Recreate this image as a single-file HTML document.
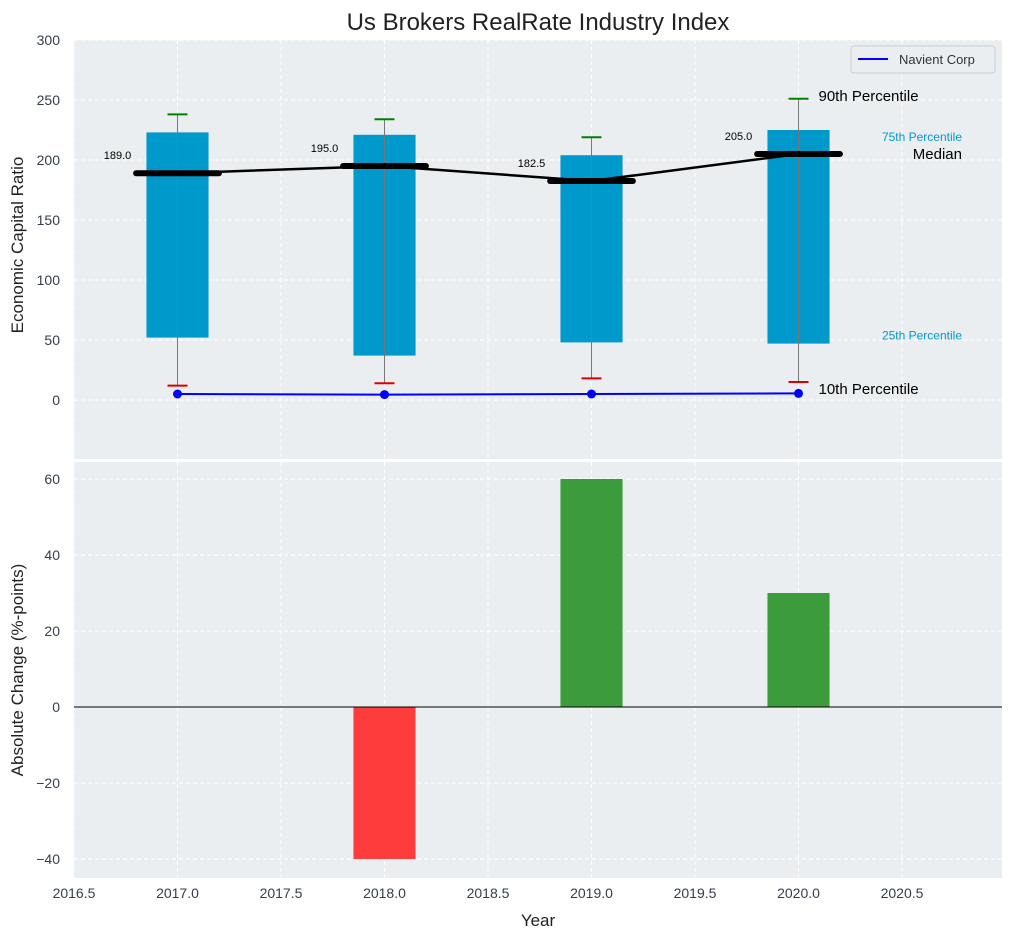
<!DOCTYPE html>
<html><head><meta charset="utf-8"><style>
body{margin:0;background:#fff;font-family:"Liberation Sans",sans-serif;}
svg text{font-family:"Liberation Sans",sans-serif;}
</style></head><body>
<svg id="c" width="1012" height="940" xmlns="http://www.w3.org/2000/svg"></svg>
<script>
const years=[2017,2018,2019,2020];
const p10=[12,14,18,15];
const p25=[52,37,48,47];
const p50=[189,195,182.5,205];
const p75=[223,221,204,225];
const p90=[238,234,219,251];
const navient=[5,4.5,5,5.5];
const changeYears=[2018,2019,2020];
const changes=[-40,60,30];
const xTicks=[2016.5,2017,2017.5,2018,2018.5,2019,2019.5,2020,2020.5];
const yTicksTop=[0,50,100,150,200,250,300];
const yTicksBot=[-40,-20,0,20,40,60];

const NS="http://www.w3.org/2000/svg";
const svg=document.getElementById('c');
function el(t,a,txt){const e=document.createElementNS(NS,t);for(const k in a)e.setAttribute(k,a[k]);if(txt!==undefined)e.textContent=txt;svg.appendChild(e);return e;}
const L=74,R=1002;
const X=v=>L+(v-2016.5)*(R-L)/(2020.983-2016.5);
const T0=40,T1=460,B0=460,B1=878;
const YT=v=>T1-(v+50)*(T1-T0)/350;
const YB=v=>B1-(v+45)*(B1-B0)/110;

let e=el('rect',{x:L,y:T0,width:R-L,height:T1-T0,fill:'#eaeef0'});

e=el('rect',{x:L,y:B0+2,width:R-L,height:B1-B0-2,fill:'#eaeef0'});

el('line',{x1:L,x2:R,y1:460,y2:460,stroke:'#fff','stroke-width':2});
xTicks.forEach(t=>{[[T0,T1-1],[B0+2,B1]].forEach(r=>el('line',{x1:X(t),x2:X(t),y1:r[0],y2:r[1],stroke:'#fff','stroke-dasharray':'4,3','stroke-width':1}));
 e=el('text',{x:X(t),y:898,'text-anchor':'middle','font-size':14,fill:'#333e4e'},t.toFixed(1));
 });
yTicksTop.forEach(t=>{el('line',{x1:L,x2:R,y1:YT(t),y2:YT(t),stroke:'#fff','stroke-dasharray':'4,3'});
 e=el('text',{x:60,y:YT(t)+5,'text-anchor':'end','font-size':14,fill:'#333e4e'},t);
 });
yTicksBot.forEach(t=>{el('line',{x1:L,x2:R,y1:YB(t),y2:YB(t),stroke:'#fff','stroke-dasharray':'4,3'});
 e=el('text',{x:60,y:YB(t)+5,'text-anchor':'end','font-size':14,fill:'#333e4e'},t<0?'\u2212'+(-t):t);
 });
const bw=0.3;
years.forEach((y,i)=>{
 e=el('rect',{x:X(y-bw/2),y:YT(p75[i]),width:X(y+bw/2)-X(y-bw/2),height:YT(p25[i])-YT(p75[i]),fill:'#0099cc'});
 
 el('line',{x1:X(y),x2:X(y),y1:YT(p90[i]),y2:YT(p10[i]),stroke:'#777','stroke-width':1});
 el('line',{x1:X(y)-10,x2:X(y)+10,y1:YT(p90[i]),y2:YT(p90[i]),stroke:'green','stroke-width':2});
 el('line',{x1:X(y)-10,x2:X(y)+10,y1:YT(p10[i]),y2:YT(p10[i]),stroke:'#d00','stroke-width':2});
 e=el('line',{x1:X(y-0.2),x2:X(y+0.2),y1:YT(p50[i]),y2:YT(p50[i]),stroke:'#000','stroke-width':6,'stroke-linecap':'round'});
 
 e=el('text',{x:X(y)-60,y:YT(p50[i])-14,'text-anchor':'middle','font-size':11,fill:'#000'},p50[i].toFixed(1));
 
});
e=el('polyline',{points:years.map((y,i)=>X(y)+','+YT(p50[i])).join(' '),fill:'none',stroke:'#000','stroke-width':2.5});

e=el('polyline',{points:years.map((y,i)=>X(y)+','+YT(navient[i])).join(' '),fill:'none',stroke:'blue','stroke-width':2});

years.forEach((y,i)=>{e=el('circle',{cx:X(y),cy:YT(navient[i]),r:4.5,fill:'blue'});
 });
const lx=X(2020)+20, last=years.length-1;
[['90th Percentile',p90[last],15,'#000','start',lx,-3],['10th Percentile',p10[last],15,'#000','start',lx,7],
 ['Median',p50[last],15,'#000','end',962,0],['75th Percentile',p75[last],12,'#0099cc','end',962,6],['25th Percentile',p25[last],12,'#0099cc','end',962,-9]].forEach(a=>{
 e=el('text',{x:a[5],y:YT(a[1])+a[6]+5,'font-size':a[2],fill:a[3],'text-anchor':a[4]},a[0]);
 });
changeYears.forEach((y,i)=>{const v=changes[i];
 e=el('rect',{x:X(y-bw/2),y:Math.min(YB(0),YB(v)),width:X(y+bw/2)-X(y-bw/2),height:Math.abs(YB(v)-YB(0)),fill:v<0?'#fe3c3c':'#3c9c3c'});
 });
el('line',{x1:L,x2:R,y1:YB(0),y2:YB(0),stroke:'#000','stroke-width':1});
e=el('rect',{x:851,y:46,width:144,height:27,fill:'#eaeef0',stroke:'#ccc',rx:3});

el('line',{x1:858,x2:888,y1:59,y2:59,stroke:'blue','stroke-width':2});
e=el('text',{x:899,y:64,'font-size':13,fill:'#333'},'Navient Corp');

e=el('text',{x:538,y:30,'text-anchor':'middle','font-size':24,fill:'#222'},'Us Brokers RealRate Industry Index');

e=el('text',{x:538,y:926,'text-anchor':'middle','font-size':17,fill:'#222'},'Year');

e=el('text',{x:0,y:0,'text-anchor':'middle','font-size':17,fill:'#222',transform:'translate(23,245) rotate(-90)'},'Economic Capital Ratio');

e=el('text',{x:0,y:0,'text-anchor':'middle','font-size':17,fill:'#222',transform:'translate(23,670) rotate(-90)'},'Absolute Change (%-points)');

</script></body></html>
